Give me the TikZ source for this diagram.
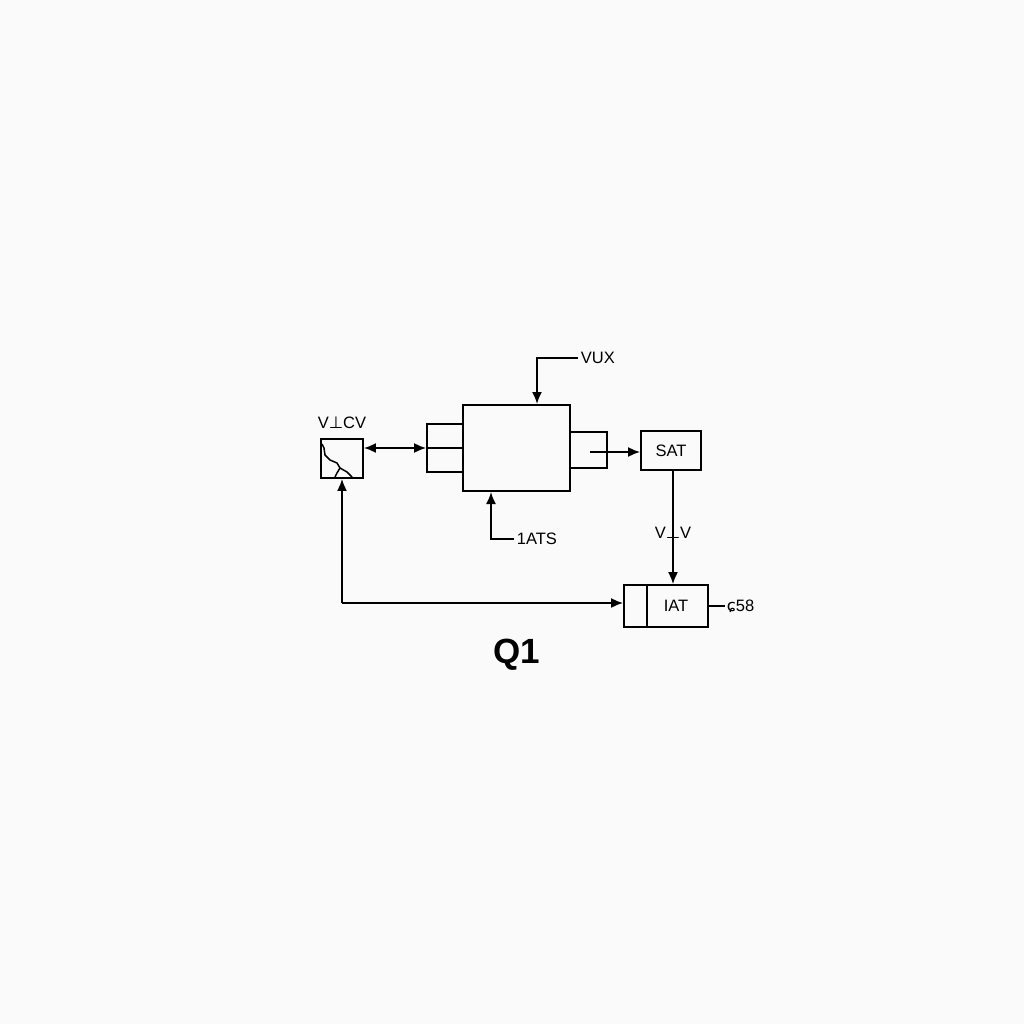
\documentclass[tikz,border=0pt]{standalone}
\usepackage{fontspec}
\setmainfont{Liberation Sans}
\newfontfamily\symf{DejaVu Sans}
\usetikzlibrary{arrows.meta}
\definecolor{paper}{RGB}{250,250,250}
\begin{document}
\begin{tikzpicture}[x=1pt,y=-1pt,
  line width=1.8pt,
  box/.style={draw,rectangle,inner sep=0pt,line width=1.8pt},
  lbl/.style={font=\fontsize{16.5}{18}\selectfont,inner sep=2pt},
  arr/.style={-{Latex[length=12pt,width=10pt]}},
  darr/.style={{Latex[length=12pt,width=10pt]}-{Latex[length=12pt,width=10pt]}}]
\useasboundingbox[fill=paper] (0,0) rectangle (1024,1024);
% boxes
\node[box,minimum width=42pt,minimum height=39pt] (crack) at (342,458.5) {};
\node[box,minimum width=36pt,minimum height=48pt] (stub) at (445,448) {};
\node[box,minimum width=107pt,minimum height=86pt] (main) at (516.5,448) {};
\node[box,minimum width=37pt,minimum height=36pt] (rstub) at (588.5,450) {};
\node[box,minimum width=60pt,minimum height=39pt,lbl] (sat) at (671,450.5) {SAT};
\node[box,minimum width=84pt,minimum height=42pt] (iat) at (666,606) {};
\node[lbl] (iatt) at (676,606) {IAT};
% inner details
\draw[line width=1.6pt] (stub.west) -- (stub.east);
\draw[line width=1.6pt] (iat.north west) ++(24,0) -- ++(0,42);
\draw[line width=1.5pt] (322,444) -- (324,448) -- (325,455) -- (330,460) -- (337,463) -- (340,468) -- (337,473) -- (335,477);
\draw[line width=1.5pt] (340,468) -- (347,472) -- (352,477);
% labels
\node[lbl] (vtcv) at (342,423) {V{\symf ⊥}CV};
\node[lbl,anchor=west] (vux) at (578,358) {VUX};
\node[lbl,anchor=west] (ats) at (514,539) {1ATS};
\node[lbl,anchor=west,inner sep=1pt] (e58) at (725,606) {{\symf ɕ}58};
\node[lbl] (vv) at (673,533) {V{\symf ⊥}V};
\node[font=\bfseries\fontsize{35}{40}\selectfont] (q1) at (517,655) {Q1};
% coordinates
\coordinate (vuxtip) at (537,404);
\coordinate (atstip) at (491,492);
\coordinate (rs) at (590,452);
\coordinate (corner) at (342,603);
% connectors
\draw[darr] (crack.east |- stub.west) -- (stub.west);
\draw[arr] (vux.west) -| (vuxtip);
\draw[arr] (ats.west) -| (atstip);
\draw[arr] (rs) -- (sat.west |- rs);
\draw[arr] (sat.south -| 673,0) -- (iat.north -| 673,0);
\draw (iat.east) -- (e58.west);
\draw[arr] (corner) -- (crack.south);
\draw[arr] (corner) -- (iat.west |- corner);
\end{tikzpicture}
\end{document}
